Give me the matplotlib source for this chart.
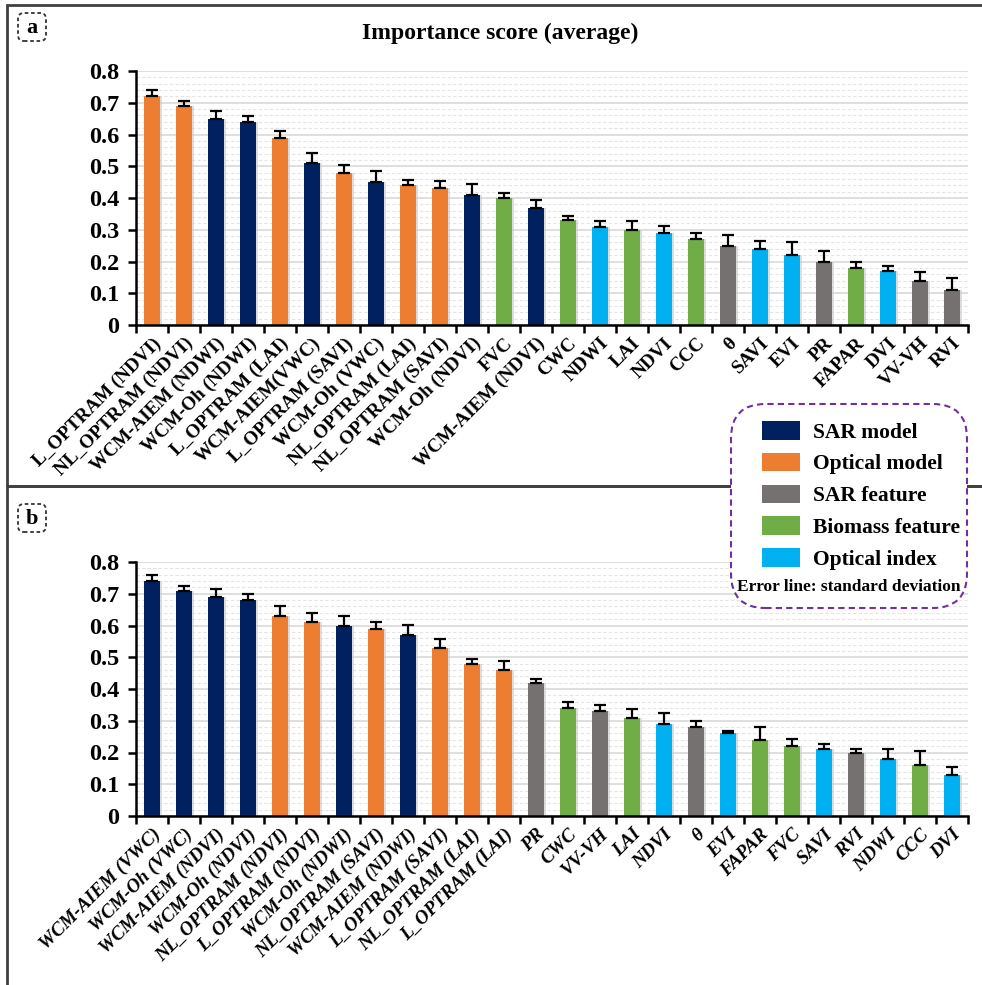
import matplotlib
matplotlib.use("Agg")
import matplotlib.pyplot as plt
import numpy as np
from matplotlib.patches import FancyBboxPatch, Patch, Rectangle
from matplotlib.ticker import MultipleLocator, FixedLocator, NullFormatter

plt.rcParams["font.family"] = ["Liberation Serif", "DejaVu Serif"]
plt.rcParams["font.weight"] = "bold"

GROUP_COLORS = {
    "SAR model": "#002060",
    "Optical model": "#ED7D31",
    "SAR feature": "#767171",
    "Biomass feature": "#70AD47",
    "Optical index": "#00B0F0",
}

# panel a
labels_a = ["L_OPTRAM (NDVI)", "NL_OPTRAM (NDVI)", "WCM-AIEM (NDWI)", "WCM-Oh (NDWI)",
            "L_OPTRAM (LAI)", "WCM-AIEM(VWC)", "L_OPTRAM (SAVI)", "WCM-Oh (VWC)",
            "NL_OPTRAM (LAI)", "NL_OPTRAM (SAVI)", "WCM-Oh (NDVI)", "FVC",
            "WCM-AIEM (NDVI)", "CWC", "NDWI", "LAI", "NDVI", "CCC", "θ", "SAVI",
            "EVI", "PR", "FAPAR", "DVI", "VV-VH", "RVI"]
scores_a = [0.72, 0.69, 0.65, 0.64, 0.59, 0.51, 0.48, 0.45, 0.44, 0.43, 0.41, 0.40,
            0.37, 0.33, 0.31, 0.30, 0.29, 0.27, 0.25, 0.24, 0.22, 0.20, 0.18, 0.17,
            0.14, 0.11]
std_a = [0.020, 0.015, 0.025, 0.018, 0.020, 0.033, 0.025, 0.035, 0.017, 0.025, 0.033,
         0.015, 0.025, 0.012, 0.018, 0.028, 0.023, 0.020, 0.035, 0.025, 0.040, 0.032,
         0.020, 0.015, 0.027, 0.038]
groups_a = ["Optical model", "Optical model", "SAR model", "SAR model", "Optical model",
            "SAR model", "Optical model", "SAR model", "Optical model", "Optical model",
            "SAR model", "Biomass feature", "SAR model", "Biomass feature",
            "Optical index", "Biomass feature", "Optical index", "Biomass feature",
            "SAR feature", "Optical index", "Optical index", "SAR feature",
            "Biomass feature", "Optical index", "SAR feature", "SAR feature"]

# panel b
labels_b = ["WCM-AIEM (VWC)", "WCM-Oh (VWC)", "WCM-AIEM (NDVI)", "WCM-Oh (NDVI)",
            "NL_OPTRAM (NDVI)", "L_OPTRAM (NDVI)", "WCM-Oh (NDWI)", "NL_OPTRAM (SAVI)",
            "WCM-AIEM (NDWI)", "L_OPTRAM (SAVI)", "NL_OPTRAM (LAI)", "L_OPTRAM (LAI)",
            "PR", "CWC", "VV-VH", "LAI", "NDVI", "θ", "EVI", "FAPAR", "FVC", "SAVI",
            "RVI", "NDWI", "CCC", "DVI"]
scores_b = [0.74, 0.71, 0.69, 0.68, 0.63, 0.61, 0.60, 0.59, 0.57, 0.53, 0.48, 0.46,
            0.42, 0.34, 0.33, 0.31, 0.29, 0.28, 0.26, 0.24, 0.22, 0.21, 0.20, 0.18,
            0.16, 0.13]
std_b = [0.020, 0.015, 0.025, 0.020, 0.030, 0.030, 0.030, 0.022, 0.033, 0.026, 0.015,
         0.028, 0.010, 0.018, 0.020, 0.028, 0.035, 0.020, 0.008, 0.040, 0.022, 0.018,
         0.012, 0.030, 0.045, 0.025]
groups_b = ["SAR model", "SAR model", "SAR model", "SAR model", "Optical model",
            "Optical model", "SAR model", "Optical model", "SAR model", "Optical model",
            "Optical model", "Optical model", "SAR feature", "Biomass feature",
            "SAR feature", "Biomass feature", "Optical index", "SAR feature",
            "Optical index", "Biomass feature", "Biomass feature", "Optical index",
            "SAR feature", "Optical index", "Biomass feature", "Optical index"]

yticks = [0, 0.1, 0.2, 0.3, 0.4, 0.5, 0.6, 0.7, 0.8]


def draw_panel(ax, labels, scores, std, groups, label_style):
    x = np.arange(len(labels))
    colors = [GROUP_COLORS[g] for g in groups]
    # soft drop shadow behind each bar
    ax.bar(x + 0.05, scores, width=0.5, color="#c8c8c8", alpha=0.6, zorder=2, linewidth=0)
    ax.bar(x, scores, width=0.5, color=colors, zorder=3, linewidth=0)
    ax.errorbar(x, scores, yerr=[np.zeros(len(x)), std], fmt="none", ecolor="black",
                elinewidth=1.6, capsize=4.5, capthick=1.6, zorder=4)

    ax.set_xlim(-0.5, len(labels) - 0.5)
    ax.set_ylim(0, 0.8)
    ax.set_yticks(yticks)
    ax.set_yticklabels(["0" if t == 0 else f"{t:.1f}" for t in yticks],
                       fontsize=17.5, fontweight="bold")
    ax.yaxis.set_minor_locator(MultipleLocator(0.02))
    ax.grid(axis="y", which="major", color="#d9d9d9", linewidth=1.2, zorder=0)
    ax.grid(axis="y", which="minor", color="#e4e4e4", linewidth=0.8,
            linestyle=(0, (3, 2)), zorder=0)

    # category boundary ticks, labels centred under bars
    ax.xaxis.set_major_locator(FixedLocator(np.arange(len(labels) + 1) - 0.5))
    ax.xaxis.set_major_formatter(NullFormatter())
    ax.xaxis.set_minor_locator(FixedLocator(x))
    ax.set_xticklabels(labels, minor=True, rotation=45, ha="right",
                       rotation_mode="anchor", fontsize=13.8, fontweight="bold",
                       fontstyle=label_style)
    ax.tick_params(axis="x", which="minor", length=0, pad=7)
    ax.tick_params(axis="x", which="major", length=6, width=1.8, direction="out")
    ax.tick_params(axis="y", which="major", length=6, width=1.8, direction="out", pad=6)
    ax.tick_params(axis="y", which="minor", length=0)

    for side in ("top", "right"):
        ax.spines[side].set_visible(False)
    for side in ("left", "bottom"):
        ax.spines[side].set_linewidth(1.8)
        ax.spines[side].set_zorder(5)


fig = plt.figure(figsize=(9.82, 9.85), dpi=100)
W, H = 982, 985


def fx(px):
    return px / W


def fy(py):
    return 1 - py / H


# panel frames
fig.add_artist(Rectangle((fx(7), fy(486)), fx(990) - fx(7), fy(5) - fy(486),
                         transform=fig.transFigure, fill=False, edgecolor="#404040",
                         linewidth=2))
fig.add_artist(Rectangle((fx(7), fy(995)), fx(990) - fx(7), fy(486) - fy(995),
                         transform=fig.transFigure, fill=False, edgecolor="#404040",
                         linewidth=2))

ax_a = fig.add_axes([fx(136), fy(325), fx(968) - fx(136), fy(71) - fy(325)])
ax_b = fig.add_axes([fx(136), fy(816), fx(968) - fx(136), fy(562) - fy(816)])
draw_panel(ax_a, labels_a, scores_a, std_a, groups_a, "normal")
draw_panel(ax_b, labels_b, scores_b, std_b, groups_b, "italic")

fig.text(fx(500), fy(33), "Importance score (average)", ha="center", va="center",
         fontsize=17, fontweight="bold")

# panel tags in dashed rounded boxes
for tag, ytag in (("a", 27), ("b", 518)):
    fig.add_artist(FancyBboxPatch((fx(18), fy(ytag + 14)), fx(28), fy(0) - fy(28),
                                  boxstyle="round,pad=0,rounding_size=0.006",
                                  transform=fig.transFigure, fill=False,
                                  edgecolor="#333333", linewidth=1.3, linestyle=(0, (2, 1.5))))
    fig.text(fx(32), fy(ytag + 1), tag, ha="center", va="center", fontsize=16,
             fontweight="bold")

# legend box spanning both panels
fig.add_artist(FancyBboxPatch((fx(731), fy(608)), fx(967) - fx(731), fy(404) - fy(608),
                              boxstyle="round,pad=0,rounding_size=0.035",
                              transform=fig.transFigure, facecolor="white",
                              edgecolor="#7030A0", linewidth=1.5,
                              linestyle=(0, (3, 2)), zorder=10))
handles = [Patch(facecolor=c, label=g) for g, c in GROUP_COLORS.items()]
leg = fig.legend(handles=handles, loc="upper left", bbox_to_anchor=(fx(762), fy(421)),
                 frameon=False, prop={"size": 15.5, "weight": "bold"},
                 handlelength=1.75, handleheight=0.95, handletextpad=0.6,
                 labelspacing=0.47, borderpad=0, borderaxespad=0)
leg.set_zorder(11)
fig.text(fx(849), fy(587), "Error line: standard deviation", ha="center", va="center",
         fontsize=12.5, fontweight="bold", zorder=11)

fig.savefig("out.png", dpi=100)
